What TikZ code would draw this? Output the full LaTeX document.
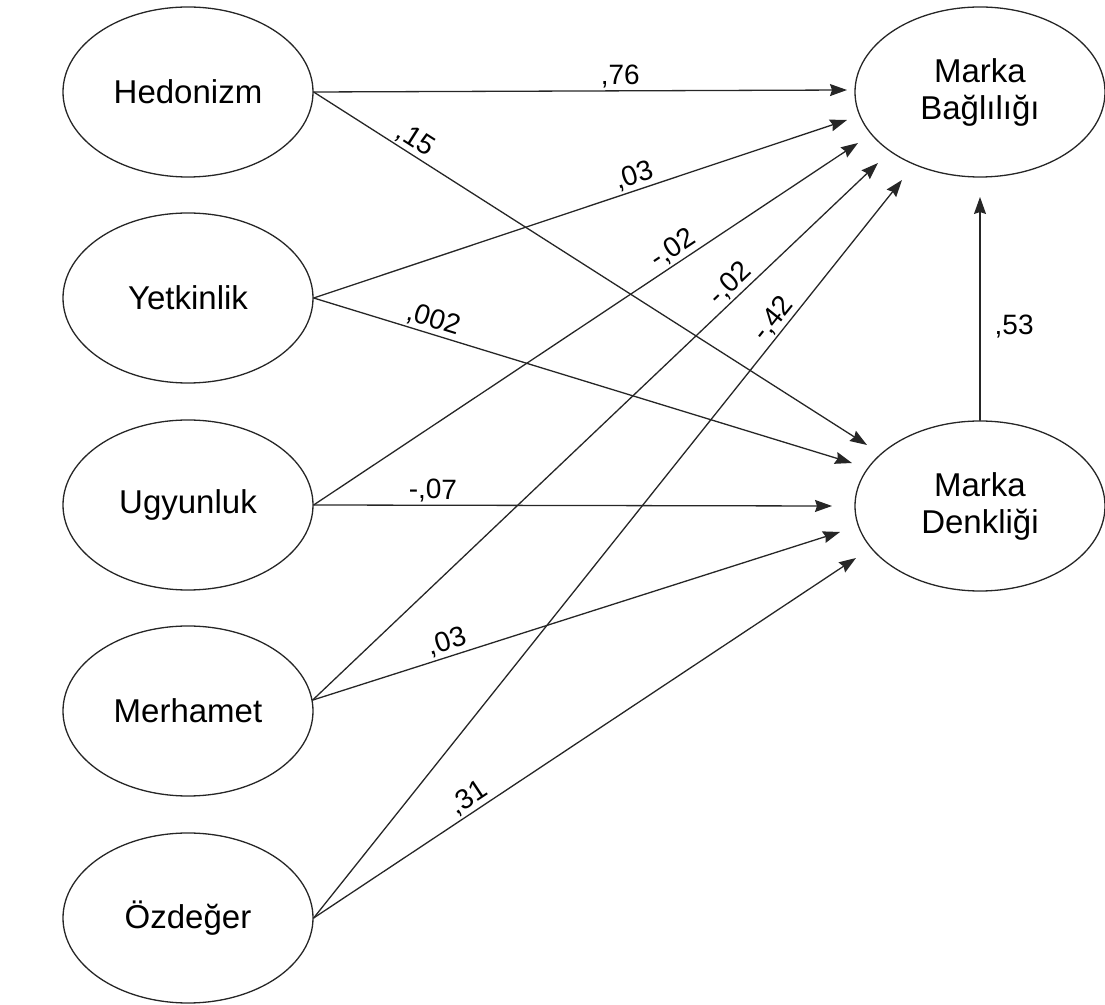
\documentclass[tikz,border=0pt]{standalone}
\usepackage{fontspec}
\setmainfont{Liberation Sans}
\usetikzlibrary{shapes.geometric,arrows.meta}

\begin{document}
\begin{tikzpicture}[x=0.5pt, y=-0.5pt, >={Stealth[length=8.5pt,width=6pt,inset=1pt]},
	line join=round, line cap=round,
	latent/.style={draw=black!85, line width=0.65pt, ellipse, inner sep=0pt,
		minimum width=125pt, minimum height=85pt, align=center,
		font=\fontsize{16.5}{18.5}\selectfont},
	path/.style={->, draw=black!85, line width=0.65pt},
	coef/.style={sloped, above, inner sep=1pt, font=\fontsize{14}{16}\selectfont}]
	\useasboundingbox (0,0) rectangle (1105,1005);
	% Bagimsiz degiskenler
	\node[latent] (hed) at (188,92) {Hedonizm};
	\node[latent] (yet) at (188,298) {Yetkinlik};
	\node[latent] (ugy) at (188,505) {Ugyunluk};
	\node[latent] (mer) at (188,711) {Merhamet};
	\node[latent] (ozd) at (188,918) {Özdeğer};
	% Bagimli degiskenler
	\node[latent] (bag) at (980,92) {Marka\\Bağlılığı};
	\node[latent] (den) at (980,506) {Marka\\Denkliği};
	% Ok uclari
	\coordinate (b1) at (847,90);  \coordinate (b2) at (847,120);
	\coordinate (b3) at (858,143); \coordinate (b4) at (878,163);
	\coordinate (b5) at (902,180); \coordinate (b6) at (980,197);
	\coordinate (d1) at (867,445); \coordinate (d2) at (852,463);
	\coordinate (d3) at (832,506); \coordinate (d4) at (840,532);
	\coordinate (d5) at (856,558);
	% Yollar
	\draw[path] (hed.east) -- node[coef, pos=0.575] {,76} (b1);
	\draw[path] (hed.east) -- node[coef, pos=0.17] {,15} (d1);
	\draw[path] (yet.east) -- node[coef, pos=0.61] {,03} (b2);
	\draw[path] (yet.east) -- node[coef, pos=0.215] {,002} (d2);
	\draw[path] (ugy.east) -- node[coef, pos=0.675] {-,02} (b3);
	\draw[path] (ugy.east) -- node[coef, pos=0.23] {-,07} (d3);
	\draw[path] (mer.5) -- node[coef, pos=0.756] {-,02} (b4);
	\draw[path] (mer.5) -- node[coef, pos=0.263] {,03} (d4);
	\draw[path] (ozd.east) -- node[coef, pos=0.80] {-,42} (b5);
	\draw[path] (ozd.east) -- node[coef, pos=0.30] {,31} (d5);
	\draw[path] (den.north) -- node[right, pos=0.42, inner sep=7pt, font=\fontsize{14}{16}\selectfont] {,53} (b6);
\end{tikzpicture}
\end{document}
